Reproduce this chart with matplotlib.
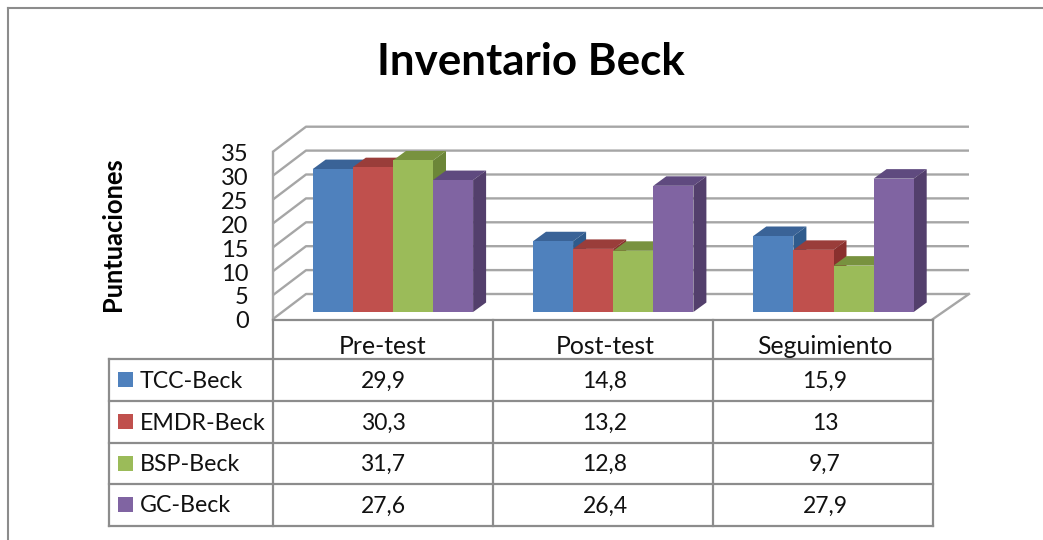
import matplotlib
matplotlib.use('Agg')
import matplotlib.pyplot as plt
from matplotlib.patches import Polygon, Rectangle

plt.rcParams['font.family'] = ['Lato', 'DejaVu Sans']

# Data
categories = ['Pre-test', 'Post-test', 'Seguimiento']
series_names = ['TCC-Beck', 'EMDR-Beck', 'BSP-Beck', 'GC-Beck']
tcc = [29.9, 14.8, 15.9]
emdr = [30.3, 13.2, 13]
bsp = [31.7, 12.8, 9.7]
gc = [27.6, 26.4, 27.9]
series = [tcc, emdr, bsp, gc]
y_ticks = [0, 5, 10, 15, 20, 25, 30, 35]

front = ['#4F81BD', '#C0504D', '#9BBB59', '#8064A2']
top = ['#3A6397', '#9A3D3A', '#78923F', '#5F4A7F']
side = ['#2F5B8C', '#8A302E', '#6C8638', '#533F6C']
grid = '#A6A6A6'
line = '#8C8C8C'

W, H = 1043, 540
PX_CAT = 220.3   # pixels per category
PX_VAL = 4.78    # pixels per unit
X0, Y0 = 273, 319

fig = plt.figure(figsize=(W / 100, H / 100), dpi=100)

# pixel overlay for frame and table
pix = fig.add_axes([0, 0, 1, 1], zorder=3)
pix.set_xlim(0, W)
pix.set_ylim(H, 0)
pix.axis('off')

# main axes, one x unit = one category, y in score units
ax = fig.add_axes([0, 0, 1, 1], zorder=1)
ax.set_xlim(-X0 / PX_CAT, (W - X0) / PX_CAT)
ax.set_ylim(-(H - Y0) / PX_VAL, Y0 / PX_VAL)
ax.axis('off')

# depth of the floor and of the bars, in data units
floor_dx, floor_dy = 33 / PX_CAT, 25 / PX_VAL
bar_dx, bar_dy = 13 / PX_CAT, 9.5 / PX_VAL
bar_w = 40.1 / PX_CAT
bar_x0 = 39.7 / PX_CAT
bar_y0 = 7 / PX_VAL
right = 660 / PX_CAT
back_right = 696 / PX_CAT

# walls and gridlines
for v in y_ticks:
    ax.plot([0, floor_dx, back_right], [v, v + floor_dy, v + floor_dy],
            color=grid, lw=1.7, zorder=1, solid_capstyle='butt')
    ax.text(-24.5 / PX_CAT, v - 0.6, str(v), ha='right', va='center', fontsize=17, color='#111111')
ax.plot([0, 0], [0, 35], color=grid, lw=1.7, zorder=1)
ax.plot([right, back_right], [0, floor_dy], color=grid, lw=1.7, zorder=1)

# bars, front face through ax.bar, depth faces as polygons
for c in range(len(categories)):
    for s in range(len(series)):
        v = series[s][c]
        x = c + bar_x0 + s * bar_w
        ax.add_patch(Polygon([(x, bar_y0 + v), (x + bar_w, bar_y0 + v),
                              (x + bar_w + bar_dx, bar_y0 + v + bar_dy),
                              (x + bar_dx, bar_y0 + v + bar_dy)],
                             facecolor=top[s], edgecolor='none', zorder=2 + s))
        ax.add_patch(Polygon([(x + bar_w, bar_y0), (x + bar_w + bar_dx, bar_y0 + bar_dy),
                              (x + bar_w + bar_dx, bar_y0 + v + bar_dy),
                              (x + bar_w, bar_y0 + v)],
                             facecolor=side[s], edgecolor='none', zorder=2 + s))
        ax.bar(x, v, width=bar_w, bottom=bar_y0, align='edge', color=front[s], zorder=2 + s)

# frame around the chart
pix.plot([8, 8], [H, 8], color=line, lw=1.5)
pix.plot([8, W], [8, 8], color=line, lw=1.5)

# data table
col_x = [273, 492.5, 713, 933]
col_mid = [383, 605, 825]
row_y = [359, 401, 443, 484, 526]
for y in row_y:
    pix.plot([109, 933], [y, y], color=line, lw=1.6)
pix.plot([273, 933], [320, 320], color=line, lw=1.6)
pix.plot([109, 109], [359, 526], color=line, lw=1.6)
for x in col_x:
    pix.plot([x, x], [320, 526], color=line, lw=1.6)

for c, name in enumerate(categories):
    pix.text(col_mid[c], 346, name, ha='center', va='center', fontsize=17.8, color='#111111')

for s, name in enumerate(series_names):
    ym = (row_y[s] + row_y[s + 1]) / 2
    pix.add_patch(Rectangle((118, ym - 8), 15, 15, facecolor=front[s], edgecolor='none'))
    pix.text(140, ym + 1, name, ha='left', va='center', fontsize=16.7, color='#111111')
    for c in range(len(categories)):
        label = str(series[s][c]).replace('.', ',')
        pix.text(col_mid[c], ym + 1, label, ha='center', va='center',
                 fontsize=16.5, color='#111111')

# titles
pix.text(531, 62, 'Inventario Beck', ha='center', va='center', fontsize=31.6,
         fontweight='bold', color='#000000')
pix.text(113, 234, 'Puntuaciones', rotation=90, ha='center', va='center', fontsize=18.4,
         fontweight='bold', color='#000000')

fig.savefig('out.png', dpi=100)
